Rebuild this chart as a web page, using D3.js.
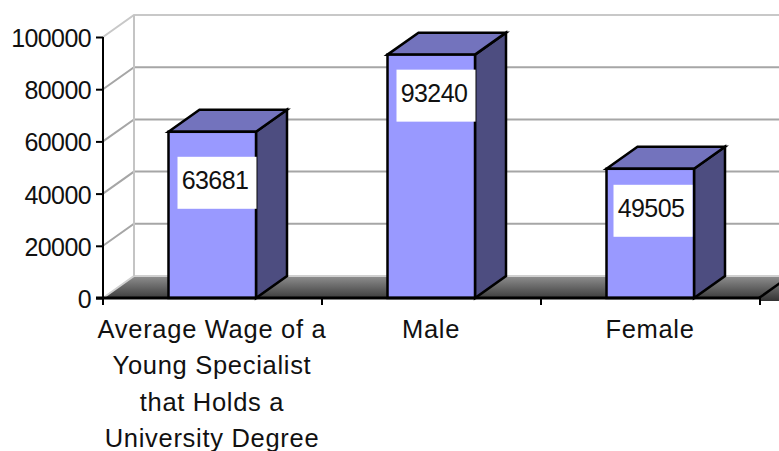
<!DOCTYPE html>
<html><head><meta charset="utf-8">
<script src="https://cdn.jsdelivr.net/npm/d3@7"></script>
<style>html,body{margin:0;padding:0;background:#fff}svg{display:block}text{font-family:"Liberation Sans",Arial,sans-serif;fill:#111}</style>
</head><body><svg id="c" width="779" height="451"></svg>
<script>
const categories = ["Average Wage of a|Young Specialist|that Holds a|University Degree", "Male", "Female"];
const wages = [63681, 93240, 49505];
const yTicks = [0, 20000, 40000, 60000, 80000, 100000];

const depthX = 31, depthY = -22;
const fontSize = 25;
const labelBoxW = 79, labelBoxH = 52;
const labelTopOffset = [25, 15, 16];
const labelLeftOffset = [9, 9, 7];

const svg = d3.select("#c");
const x = d3.scaleBand().domain(categories).range([103, 760]).paddingInner(0).paddingOuter(0);
const y = d3.scaleLinear().domain([0, 100000]).range([298, 37]);
const barW = 87.5;
const barX = d => x(d) + (x.bandwidth() - barW) / 2 - 0.25;

const defs = svg.append("defs");
const g = defs.append("linearGradient").attr("id", "floor").attr("x1", 0).attr("y1", 0).attr("x2", 0).attr("y2", 1);
g.append("stop").attr("offset", "0%").attr("stop-color", "#8f8f8f");
g.append("stop").attr("offset", "100%").attr("stop-color", "#333333");

// Floor
const floorEnd = 800;
svg.append("path")
  .attr("d", `M${x.range()[0]},${y(0)}L${x.range()[0] + depthX},${y(0) + depthY}L${floorEnd},${y(0) + depthY}L${floorEnd},${y(0) + 3}L${x.range()[0]},${y(0) + 3}Z`)
  .attr("fill", "url(#floor)");
svg.append("rect").attr("x", x.range()[0] - 1).attr("y", y(0) + 1).attr("width", x.range()[1] - x.range()[0] + 1).attr("height", 4).attr("fill", "#fff");

// Walls and gridlines
svg.append("g").selectAll("path").data(yTicks).join("path")
  .attr("d", d => `M${x.range()[0]},${y(d)}L${x.range()[0] + depthX},${y(d) + depthY}L${floorEnd},${y(d) + depthY}`)
  .attr("fill", "none")
  .attr("stroke", d => d === 100000 ? "#c8c8c8" : (d === 0 ? "#d0d0d0" : "#a6a6a6"))
  .attr("stroke-width", 2);
svg.append("line")
  .attr("x1", x.range()[0] + depthX).attr("x2", x.range()[0] + depthX)
  .attr("y1", y(0) + depthY).attr("y2", y(100000) + depthY)
  .attr("stroke", "#c4c4c4").attr("stroke-width", 2);

// Floor's right-hand diagonal
svg.append("path")
  .attr("d", `M${x.range()[1] - 1},${y(0)}L${x.range()[1] - 1 + depthX},${y(0) + depthY}`)
  .attr("stroke", "#000").attr("stroke-width", 2.5).attr("fill", "none");

// Bars
const bars = svg.append("g").selectAll("g").data(categories).join("g");
const stroke = {stroke: "#000", "stroke-width": 2.5, "stroke-linejoin": "miter"};
const applyStroke = s => { for (const k in stroke) s.attr(k, stroke[k]); return s; };
applyStroke(bars.append("path")
  .attr("d", (d, i) => { const l = barX(d), r = l + barW, t = y(wages[i]), b = y(0);
    return `M${r},${t}L${r + depthX},${t + depthY}L${r + depthX},${b + depthY}L${r},${b}Z`; })
  .attr("fill", "#4d4d80"));
applyStroke(bars.append("path")
  .attr("d", (d, i) => { const l = barX(d), r = l + barW, t = y(wages[i]);
    return `M${l},${t}L${l + depthX},${t + depthY}L${r + depthX},${t + depthY}L${r},${t}Z`; })
  .attr("fill", "#7373bd"));
applyStroke(bars.append("rect")
  .attr("x", d => barX(d)).attr("y", (d, i) => y(wages[i]))
  .attr("width", barW).attr("height", (d, i) => y(0) - y(wages[i]))
  .attr("fill", "#9999ff"));

// Data labels
bars.append("rect")
  .attr("x", (d, i) => barX(d) + labelLeftOffset[i])
  .attr("y", (d, i) => y(wages[i]) + labelTopOffset[i])
  .attr("width", labelBoxW).attr("height", labelBoxH).attr("fill", "#fff");
bars.append("text")
  .attr("x", (d, i) => barX(d) + labelLeftOffset[i] + labelBoxW / 2 - 2)
  .attr("y", (d, i) => y(wages[i]) + labelTopOffset[i] + labelBoxH / 2 + 6)
  .attr("text-anchor", "middle").attr("font-size", fontSize).attr("letter-spacing", -0.6)
  .text((d, i) => wages[i]);

// Value axis
const yAxis = svg.append("g").attr("transform", `translate(${x.range()[0]},0)`)
  .call(d3.axisLeft(y).tickValues(yTicks).tickFormat(d3.format("d")).tickSize(7).tickPadding(5));
yAxis.selectAll("line,path").attr("stroke", "#000").attr("stroke-width", 2);
yAxis.select(".domain").attr("d", `M0,${y(100000)}V${y(0)}`);
yAxis.selectAll("text").attr("font-size", fontSize).attr("letter-spacing", -0.6).attr("dy", "0.38em")
  .attr("font-family", '"Liberation Sans",Arial,sans-serif').attr("fill", "#111");

// Category axis
svg.append("line").attr("x1", x.range()[0] - 7).attr("x2", x.range()[1])
  .attr("y1", y(0)).attr("y2", y(0)).attr("stroke", "#000").attr("stroke-width", 3);
svg.append("g").selectAll("line").data(d3.range(categories.length + 1)).join("line")
  .attr("x1", i => x.range()[0] + i * x.step()).attr("x2", i => x.range()[0] + i * x.step())
  .attr("y1", y(0)).attr("y2", y(0) + 7).attr("stroke", "#000").attr("stroke-width", 2);

const lineYs = [338, 374, 411, 447];
svg.append("g").selectAll("text").data(categories).join("text")
  .attr("text-anchor", "middle").attr("font-size", 25.5).attr("letter-spacing", 0.7)
  .each(function (d) {
    const t = d3.select(this);
    d.split("|").forEach((s, j) => t.append("tspan")
      .attr("x", x(d) + x.bandwidth() / 2 - 0.5).attr("y", lineYs[j]).text(s));
  });
</script></body></html>
